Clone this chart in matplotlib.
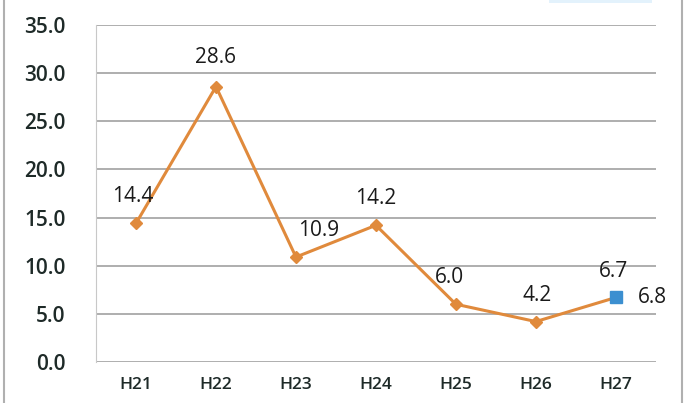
import matplotlib.pyplot as plt
from matplotlib.patches import Rectangle

# data
years = ['H21', 'H22', 'H23', 'H24', 'H25', 'H26', 'H27']
rate = [14.4, 28.6, 10.9, 14.2, 6.0, 4.2, 6.7]
target_year = 'H27'
target_value = 6.8
yticks = [0, 5, 10, 15, 20, 25, 30, 35]

plt.rcParams['font.family'] = ['Open Sans', 'DejaVu Sans']

fig = plt.figure(figsize=(6.86, 4.03), dpi=100)
ax = fig.add_axes([0.140, 0.1017, 0.816, 0.8363])

x = list(range(len(years)))
ax.plot(x, rate, color='#E08A3C', lw=2.2, marker='D', ms=6, zorder=3)
tx = years.index(target_year)
ax.plot([tx], [target_value], ls='none', marker='s', ms=8, color='#3C8FD0', zorder=4)

# value labels (offsets in points)
offsets = [(-2, 19), (0, 21), (16, 19), (0, 19), (-5, 19), (1, 19), (-2, 19)]
for xi, v, (dx, dy) in zip(x, rate, offsets):
    ax.annotate(f'{v:.1f}', (xi, v), xytext=(dx, dy), textcoords='offset points',
                ha='center', va='center', fontsize=15, color='#1a1a1a')
ax.annotate(f'{target_value:.1f}', (tx, target_value), xytext=(26, -1),
            textcoords='offset points', ha='center', va='center',
            fontsize=15, color='#1a1a1a')

ax.set_xlim(-0.5, len(years) - 0.5)
ax.set_ylim(0, 35)
ax.set_xticks(x)
ax.set_xticklabels(years, fontsize=12.5, fontweight='semibold', color='#1e2a28')
ax.set_yticks(yticks)
ax.set_yticklabels([f'{t:.1f}' for t in yticks], fontsize=15, fontweight='semibold', color='#1e2a28')
ax.tick_params(axis='y', length=0, pad=22)
ax.tick_params(axis='x', length=0, pad=11)
ax.grid(axis='y', color='#a8a8a8', lw=1.3)
ax.set_axisbelow(True)
for s in ['top', 'right', 'bottom']:
    ax.spines[s].set_visible(False)
ax.spines['left'].set_color('#c8c8c8')

# outer frame and cut-off legend strip
fig.patches.append(Rectangle((0.006, -0.01), 0.988, 1.02, transform=fig.transFigure,
                             fill=False, ec='#b0b0b0', lw=1.5))
fig.patches.append(Rectangle((0.80, 0.992), 0.15, 0.01, transform=fig.transFigure,
                             fc='#e3f2fc', ec='none'))

fig.savefig('out.png', dpi=100)
